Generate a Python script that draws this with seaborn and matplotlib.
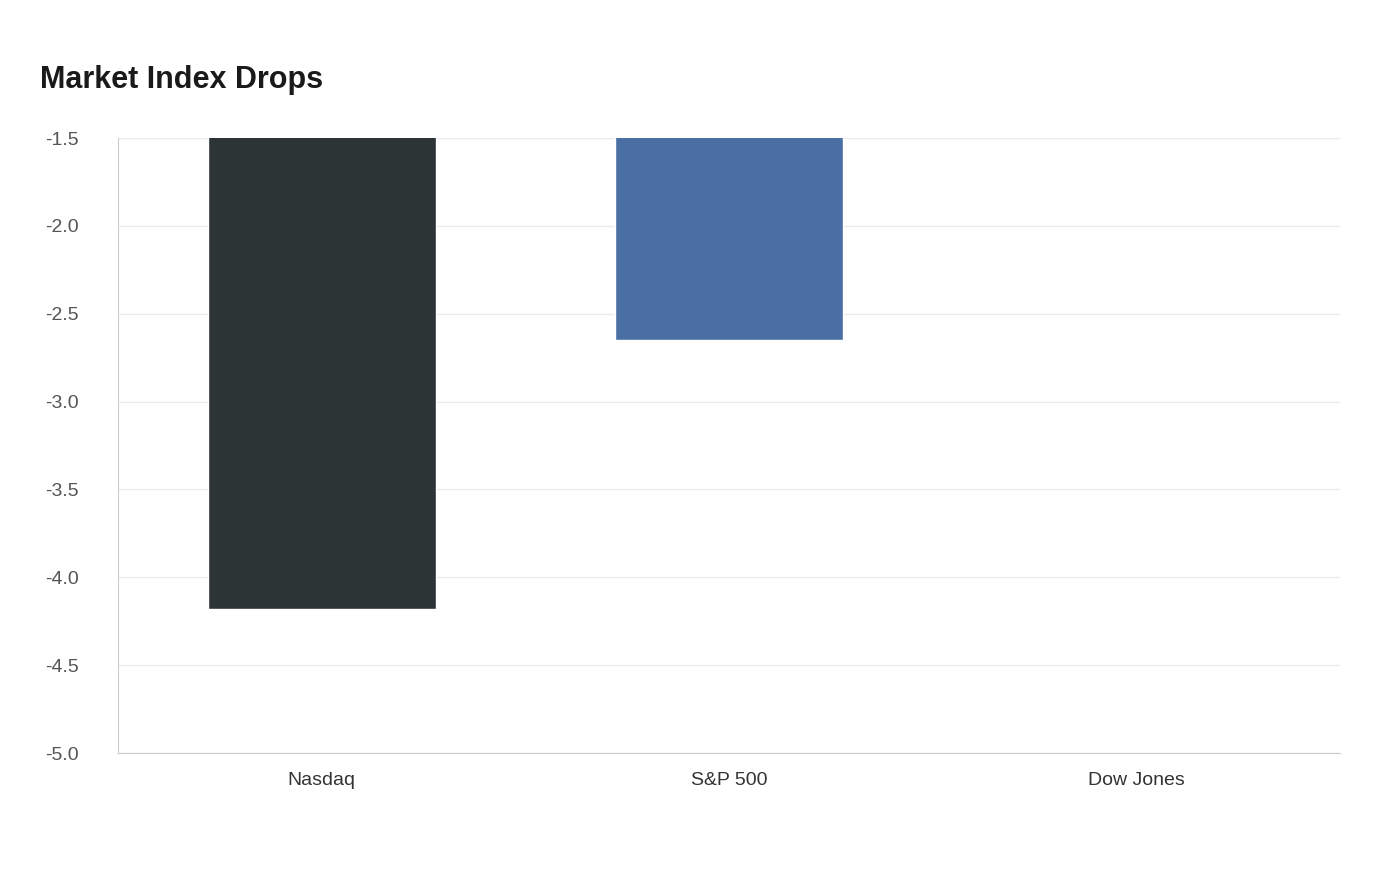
import matplotlib
matplotlib.use("Agg")
import matplotlib.pyplot as plt
import seaborn as sns
import pandas as pd

categories = ["Nasdaq", "S&P 500", "Dow Jones"]
values = [-4.18, -2.65, -1.3]
colors = ["#2d3436", "#4a6fa5", "#8a9bb0"]

sns.set_style("white")
plt.rcParams['font.family'] = ['Liberation Sans', 'DejaVu Sans']

df = pd.DataFrame({"idx": categories, "val": values})
fig = plt.figure(figsize=(14, 8.8), dpi=100)
ax = fig.add_axes([118/1400, 1-753/880, (1340-118)/1400, (753-138)/880])
sns.barplot(data=df, x="idx", y="val", hue="idx", palette=colors, width=0.56,
            legend=False, ax=ax, saturation=1)
ax.set_ylim(-5.0, -1.5)
ax.set_yticks([-5.0, -4.5, -4.0, -3.5, -3.0, -2.5, -2.0, -1.5])
ax.set_yticklabels([f"{v:.1f}" for v in ax.get_yticks()])
ax.grid(axis="y", color="#ebebeb", linewidth=1)
ax.set_axisbelow(True)
for s in ["top", "right"]:
    ax.spines[s].set_visible(False)
for s in ["left", "bottom"]:
    ax.spines[s].set_color("#cccccc")
ax.tick_params(axis="y", labelsize=14, colors="#555555", length=0, pad=28)
ax.tick_params(axis="x", labelsize=14, colors="#333333", length=0, pad=14)
ax.set_xlabel("")
ax.set_ylabel("")
fig.text(40/1400, 1-80/880, "Market Index Drops", fontsize=22, fontweight="bold",
         color="#1a1a1a", va="center")
fig.savefig("out.png", dpi=100)
